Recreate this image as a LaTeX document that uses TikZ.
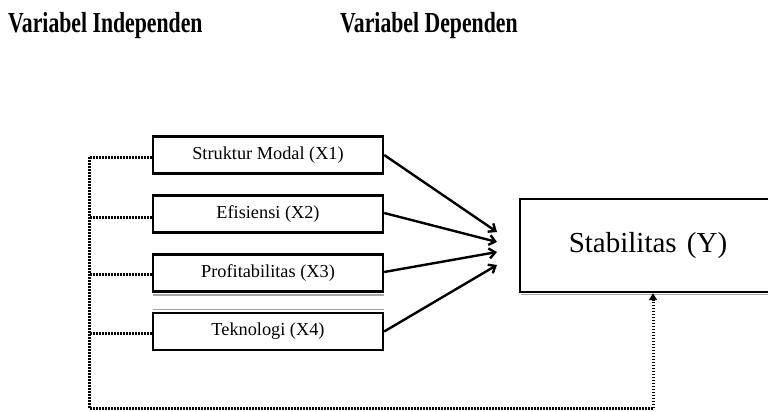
\documentclass[tikz,border=0pt]{standalone}
\usepackage{fontspec}
\setmainfont{Liberation Serif}
\usetikzlibrary{arrows.meta}
\begin{document}
\begin{tikzpicture}[x=1pt,y=-1pt,
  varbox/.style={draw=black,line width=2.4pt,minimum width=230pt,minimum height=37pt,inner sep=0pt,font=\fontsize{18.3}{20}\selectfont},
  ybox/.style={minimum width=256pt,minimum height=93pt,inner sep=0pt,font=\fontsize{29}{32}\selectfont},
  boxline/.style={draw=black,line width=2.4pt},
  arr/.style={line width=2.4pt,-{Straight Barb[length=6pt,width=10pt,line width=2.4pt]}},
  dotline/.style={line width=3pt,dash pattern=on 1.5pt off 1.5pt},
  shadowline/.style={draw=gray!70,line width=1.6pt},
  title/.style={anchor=base west,inner sep=0pt,font=\fontsize{29}{32}\selectfont\bfseries}]
\useasboundingbox (0,0) rectangle (768,412);
\fill[white] (0,0) rectangle (768,412);
\begin{scope}
\clip (0,0) rectangle (768,412);
% titles
\node[title] (ti) at (8,33) {\scalebox{0.75}[1]{Variabel Independen}};
\node[title] (td) at (340,33) {\scalebox{0.75}[1]{Variabel Dependen}};
% boxes
\node[varbox] (x1) at (268,155) {Struktur Modal (X1)};
\node[varbox] (x2) at (268,214) {Efisiensi (X2)};
\node[varbox] (x3) at (268,273) {Profitabilitas (X3)};
\node[varbox] (x4) at (268,331.5) {Teknologi (X4)};
\node[ybox] (y) at (648,245.5) {Stabilitas\hspace{3pt} (Y)};
\coordinate (yne) at ([xshift=40pt]y.north east);
\coordinate (yse) at ([xshift=40pt]y.south east);
\draw[boxline] (yne) -- (y.north west) -- (y.south west) -- (yse);
% shadow lines
\draw[shadowline] ([yshift=-2.2pt,xshift=1pt]x3.south west) -- ([yshift=-2.2pt]x3.south east);
\draw[shadowline] ([yshift=2.2pt,xshift=1pt]x4.north west) -- ([yshift=2.2pt]x4.north east);
\draw[shadowline] ([yshift=-2.2pt,xshift=1pt]y.south west) -- ([yshift=-2.2pt]yse);
% arrow targets
\coordinate (t1) at (497,232);
\coordinate (t2) at (497,242);
\coordinate (t3) at (497,252);
\coordinate (t4) at (497,265);
\draw[arr] (x1.east) -- (t1);
\draw[arr] ([yshift=1pt]x2.east) -- (t2);
\draw[arr] ([yshift=1pt]x3.east) -- (t3);
\draw[arr] (x4.east) -- (t4);
% dotted feedback
\coordinate (lt) at (89,157);
\coordinate (lb) at (89,408);
\coordinate (rb) at (653,408);
\draw[dotline] ([yshift=-2pt]x1.west) -- (lt) -- (lb) -- (rb);
\draw[dotline] ([yshift=-3pt]x2.west) -- ([yshift=-3pt]x2.west -| lt);
\draw[dotline] ([yshift=-1pt]x3.west) -- ([yshift=-1pt]x3.west -| lt);
\draw[dotline] ([yshift=-1.5pt]x4.west) -- ([yshift=-1.5pt]x4.west -| lt);
\draw[dotline,-{Triangle[length=7pt,width=8pt]}] (rb) -- ([yshift=-1pt]rb |- y.south);
\end{scope}
\end{tikzpicture}
\end{document}
